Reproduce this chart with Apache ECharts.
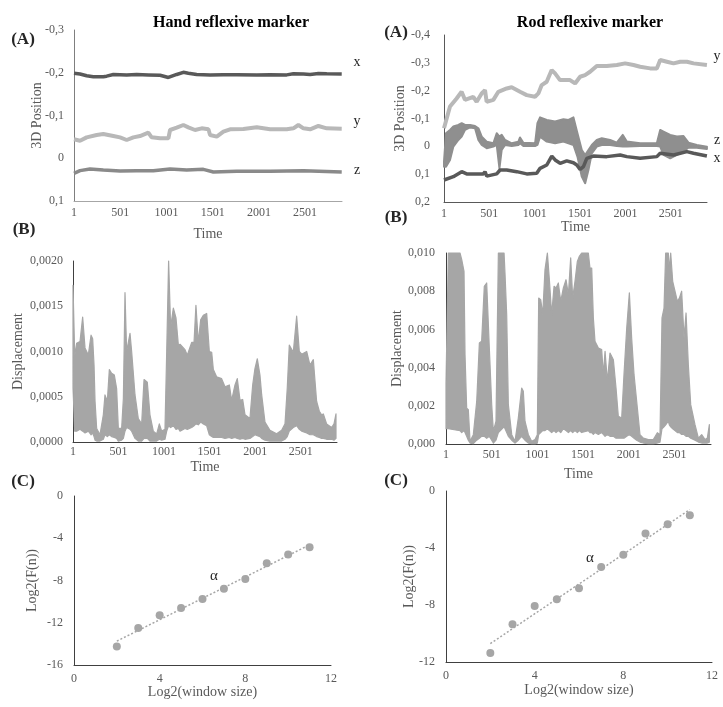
<!DOCTYPE html>
<html><head><meta charset="utf-8">
<script src="https://cdn.jsdelivr.net/npm/echarts@6/dist/echarts.min.js"></script>
<style>html,body{margin:0;padding:0;background:#fff}#c{width:723px;height:707px}</style>
</head><body><div id="c"></div>
<script>
// ---------- tick labels ----------
const timeTicks = [1, 501, 1001, 1501, 2001, 2501];
const handPosTicks = [-0.3, -0.2, -0.1, 0, 0.1];
const handPosLabels = ['-0,3', '-0,2', '-0,1', '0', '0,1'];
const rodPosTicks = [-0.4, -0.3, -0.2, -0.1, 0, 0.1, 0.2];
const rodPosLabels = ['-0,4', '-0,3', '-0,2', '-0,1', '0', '0,1', '0,2'];
const handDispTicks = [0, 0.0005, 0.001, 0.0015, 0.002];
const handDispLabels = ['0,0000', '0,0005', '0,0010', '0,0015', '0,0020'];
const rodDispTicks = [0, 0.002, 0.004, 0.006, 0.008, 0.01];
const rodDispLabels = ['0,000', '0,002', '0,004', '0,006', '0,008', '0,010'];

// ---------- (A) Hand 3D position ----------
const handXTime = [1, 66, 138, 210, 318, 354, 427, 571, 679, 805, 932, 1022, 1040, 1112, 1184, 1202, 1238, 1328, 1473, 1617, 1761, 1978, 2122, 2302, 2374, 2483, 2555, 2645, 2735, 2897];
const handXValue = [-0.1987, -0.197, -0.193, -0.1908, -0.1908, -0.192, -0.196, -0.195, -0.196, -0.195, -0.194, -0.189, -0.1877, -0.196, -0.201, -0.2025, -0.199, -0.196, -0.195, -0.1955, -0.1955, -0.195, -0.1955, -0.195, -0.1975, -0.197, -0.196, -0.198, -0.1975, -0.197];
const handYTime = [1, 66, 138, 246, 318, 427, 499, 571, 643, 715, 805, 841, 932, 1022, 1040, 1112, 1184, 1238, 1310, 1382, 1455, 1473, 1545, 1617, 1689, 1833, 1978, 2122, 2302, 2374, 2428, 2483, 2555, 2645, 2735, 2897];
const handYValue = [-0.0443, -0.0411, -0.0489, -0.0544, -0.0567, -0.052, -0.0489, -0.0427, -0.0489, -0.052, -0.0598, -0.0489, -0.0466, -0.0466, -0.0661, -0.0715, -0.0778, -0.0723, -0.0661, -0.07, -0.0677, -0.0544, -0.0505, -0.0622, -0.0677, -0.0684, -0.0723, -0.0677, -0.0677, -0.07, -0.0778, -0.07, -0.0677, -0.0755, -0.07, -0.0692];
const handZTime = [1, 66, 174, 318, 499, 679, 859, 1040, 1220, 1400, 1509, 1761, 2122, 2483, 2897];
const handZValue = [0.0353, 0.029, 0.0251, 0.0275, 0.0298, 0.029, 0.029, 0.0251, 0.0275, 0.026, 0.0321, 0.0306, 0.0306, 0.029, 0.0321];

// ---------- (A) Rod 3D position ----------
const rodYTime = [1, 67, 140, 195, 232, 324, 361, 416, 453, 471, 545, 600, 692, 747, 839, 913, 1004, 1041, 1078, 1133, 1188, 1225, 1280, 1390, 1446, 1501, 1556, 1611, 1685, 1795, 1906, 1998, 2090, 2163, 2274, 2347, 2384, 2458, 2531, 2605, 2679, 2752, 2899];
const rodYValue = [-0.065, -0.143, -0.172, -0.196, -0.167, -0.178, -0.16, -0.19, -0.202, -0.16, -0.167, -0.196, -0.208, -0.212, -0.196, -0.184, -0.178, -0.19, -0.22, -0.232, -0.274, -0.262, -0.238, -0.238, -0.226, -0.25, -0.256, -0.268, -0.289, -0.289, -0.292, -0.298, -0.292, -0.286, -0.28, -0.28, -0.31, -0.304, -0.298, -0.304, -0.304, -0.298, -0.292];
const rodXTime = [1, 104, 196, 251, 435, 453, 472, 582, 619, 692, 803, 913, 1023, 1060, 1134, 1189, 1226, 1281, 1354, 1428, 1465, 1501, 1538, 1575, 1648, 1795, 1943, 2016, 2163, 2347, 2384, 2531, 2678, 2751, 2899];
const rodXValue = [0.121, 0.109, 0.091, 0.099, 0.099, 0.091, 0.107, 0.099, 0.085, 0.085, 0.091, 0.099, 0.097, 0.079, 0.067, 0.035, 0.049, 0.061, 0.052, 0.059, 0.067, 0.083, 0.073, 0.043, 0.035, 0.037, 0.031, 0.037, 0.043, 0.037, 0.025, 0.031, 0.019, 0.025, 0.035];
// z is a noisy trace: read as its upper (more negative) and lower edges
const rodZTime = [1, 23, 67, 104, 159, 196, 233, 288, 343, 380,
  417, 472, 545, 582, 612, 637, 674, 748, 821, 839,
  876, 1005, 1031, 1060, 1134, 1226, 1317, 1373, 1428, 1472,
  1520, 1557, 1593, 1630, 1685, 1740, 1832, 1906, 1972, 2016,
  2163, 2347, 2384, 2421, 2494, 2568, 2641, 2696, 2788, 2899];
const rodZTop = [0.055, -0.047, -0.059, -0.071, -0.077, -0.083, -0.077, -0.077, -0.073, -0.065,
  -0.035, -0.017, -0.011, -0.047, -0.035, -0.041, -0.023, -0.011, -0.017, -0.032,
  -0.013, -0.011, -0.083, -0.104, -0.095, -0.089, -0.097, -0.095, -0.104, -0.047,
  0.013, 0.031, 0.013, -0.005, -0.023, -0.029, -0.023, -0.013, -0.041, -0.017,
  -0.011, -0.011, -0.059, -0.053, -0.041, -0.035, -0.037, -0.013, -0.005, 0.001];
const rodZBottom = [0.073, 0.073, 0.049, 0.001, -0.023, -0.035, -0.059, -0.068, -0.065, -0.023,
  -0.005, 0.007, 0.001, -0.005, 0.079, 0.013, -0.005, -0.001, -0.005, -0.011,
  -0.001, -0.001, -0.005, -0.035, -0.017, -0.011, -0.017, -0.011, -0.005, 0.037,
  0.109, 0.133, 0.085, 0.025, 0.001, -0.005, -0.005, -0.001, 0.001, 0.001,
  -0.001, -0.001, 0.001, 0.031, 0.043, 0.031, 0.019, 0.004, 0.005, 0.010];

// ---------- (B) Hand displacement (upper / lower envelope) ----------
const handDispTime = [1, 20, 41, 78, 107, 133, 169, 199, 217, 232,
  243, 261, 297, 334, 352, 378, 400, 425, 455, 480,
  499, 535, 554, 572, 590, 627, 645, 682, 718, 755,
  781, 817, 846, 883, 920, 949, 975, 1011, 1030, 1051,
  1073, 1103, 1132, 1158, 1176, 1231, 1256, 1304, 1330, 1351,
  1377, 1403, 1432, 1469, 1498, 1524, 1542, 1578, 1633, 1670,
  1718, 1743, 1780, 1805, 1835, 1864, 1890, 1944, 1974, 1999,
  2025, 2054, 2073, 2109, 2164, 2237, 2292, 2329, 2354, 2376,
  2420, 2457, 2486, 2512, 2567, 2603, 2640, 2676, 2706, 2731,
  2750, 2786, 2841, 2867, 2889];
const handDispHigh = [0.00173, 0.00095, 0.00109, 0.00111, 0.00138, 0.00104, 0.00096, 0.00118, 0.00114, 0.00085,
  0.00045, 0.00015, 0.00008, 0.0003, 0.00052, 0.00045, 0.0008, 0.00076, 0.00074, 0.00059,
  0.00015, 0.00015, 0.00048, 0.00165, 0.001, 0.0012, 0.001, 0.00052, 0.00026, 0.0002,
  0.00069, 0.00066, 0.0003, 0.00012, 0.00009, 0.0002, 0.00012, 0.00014, 0.001, 0.002,
  0.00127, 0.00148, 0.00137, 0.00107, 0.00108, 0.00102, 0.00096, 0.0011, 0.0011, 0.00151,
  0.0011, 0.00135, 0.0014, 0.00142, 0.001, 0.00099, 0.0008, 0.00072, 0.0007, 0.00061,
  0.00063, 0.00046, 0.00063, 0.0007, 0.00046, 0.00047, 0.0003, 0.00026, 0.00063, 0.00081,
  0.00092, 0.00074, 0.00052, 0.00022, 0.00013, 0.00009, 0.00013, 0.0002, 0.0006, 0.00107,
  0.00099, 0.00139, 0.001, 0.00097, 0.001, 0.00085, 0.00091, 0.00045, 0.00034, 0.0003,
  0.00031, 0.0002, 0.00016, 0.0002, 0.00031];
const handDispLow = [0.0006, 0.00012, 0.00012, 0.00014, 0.00012, 0.0001, 0.00012, 0.00008, 0.0001, 0.00006,
  0.00002, 0.00001, 0.00001, 0.00003, 0.00008, 0.00006, 0.00008, 0.00006, 0.00005, 0.00004,
  0.00001, 0.00002, 0.00004, 0.00012, 0.00016, 0.00014, 0.00012, 0.00004, 0.00001, 0.00001,
  0.00004, 0.00004, 0.00001, 0.00001, 0.00001, 0.00003, 0.00002, 0.00003, 0.00012, 0.00018,
  0.00016, 0.00018, 0.00014, 0.00015, 0.00012, 0.00015, 0.00014, 0.00016, 0.00018, 0.0002,
  0.00019, 0.00022, 0.0002, 0.00018, 0.00008, 0.00006, 0.00005, 0.00005, 0.00005, 0.00004,
  0.00005, 0.00004, 0.00005, 0.00004, 0.00003, 0.00004, 0.00003, 0.00004, 0.00006, 0.00008,
  0.00007, 0.00006, 0.00004, 0.00002, 0.00001, 0.00001, 0.00001, 0.00003, 0.00006, 0.00012,
  0.00016, 0.00018, 0.00014, 0.00012, 0.0001, 0.00008, 0.00008, 0.00006, 0.00005, 0.00004,
  0.00004, 0.00003, 0.00003, 0.00002, 0.00004];

// ---------- (B) Rod displacement (upper / lower envelope) ----------
const rodDispTime = [1, 27, 154, 173, 198, 209, 227, 245, 264, 300,
  337, 366, 391, 420, 446, 475, 501, 519, 548, 574,
  636, 647, 665, 683, 720, 756, 792, 829, 847, 865,
  902, 938, 975, 1000, 1015, 1037, 1059, 1084, 1110, 1132,
  1157, 1183, 1205, 1230, 1256, 1285, 1314, 1340, 1365, 1387,
  1412, 1438, 1460, 1485, 1558, 1576, 1595, 1613, 1631, 1668,
  1704, 1722, 1741, 1766, 1795, 1832, 1861, 1886, 1923, 1948,
  1978, 2007, 2032, 2058, 2087, 2123, 2160, 2215, 2269, 2313,
  2342, 2364, 2386, 2404, 2433, 2444, 2459, 2481, 2506, 2532,
  2554, 2579, 2605, 2627, 2652, 2678, 2725, 2762, 2798, 2835,
  2860, 2882];
const rodDispHigh = [0.0032, 0.012, 0.012, 0.00965, 0.00904, 0.00468, 0.00188, 0.0018, 0.00014, 0.00049,
  0.00223, 0.00529, 0.00538, 0.00826, 0.00843, 0.00503, 0.00206, 0.00066, 0.00119, 0.012,
  0.012, 0.00887, 0.00677, 0.00206, 0.00049, 0.00014, 0.00136, 0.00293, 0.00276, 0.00119,
  0.00049, 0.00014, 0.00023, 0.00049, 0.00764, 0.00756, 0.00677, 0.00913, 0.012, 0.0086,
  0.00677, 0.00826, 0.00817, 0.00843, 0.00747, 0.00817, 0.0086, 0.00782, 0.00974, 0.00764,
  0.00852, 0.00956, 0.00983, 0.012, 0.012, 0.00921, 0.00921, 0.0066, 0.00538, 0.00503,
  0.00494, 0.00363, 0.00485, 0.00328, 0.00476, 0.00441, 0.00293, 0.00145, 0.00136, 0.00363,
  0.00607, 0.00791, 0.00555, 0.00363, 0.00223, 0.00049, 0.00031, 0.00023, 0.00023, 0.00059,
  0.00049, 0.0066, 0.00712, 0.012, 0.012, 0.00904, 0.012, 0.00852, 0.008, 0.00747,
  0.00764, 0.008, 0.00555, 0.00686, 0.00415, 0.00206, 0.00101, 0.00031, 0.00049, 0.00023,
  0.00031, 0.00101];
const rodDispLow = [0.0008, 0.0008, 0.0007, 0.0006, 0.0007, 0.0006, 0.0004, 0.0002, 0.00005, 0.00002,
  0.0002, 0.0003, 0.0004, 0.0004, 0.0003, 0.0004, 0.0002, 0.00005, 0.0002, 0.0006,
  0.0009, 0.0008, 0.0006, 0.0004, 0.0002, 0.00005, 0.0002, 0.0004, 0.0003, 0.0002,
  0.00005, 0.00002, 0.00002, 0.00005, 0.0005, 0.0006, 0.0007, 0.0007, 0.0008, 0.0007,
  0.0006, 0.0007, 0.0006, 0.0007, 0.0006, 0.0008, 0.0007, 0.0006, 0.0007, 0.0006,
  0.0007, 0.0006, 0.0007, 0.0006, 0.0007, 0.0006, 0.0006, 0.0005, 0.0006, 0.0005,
  0.0006, 0.0005, 0.0004, 0.0005, 0.0004, 0.0004, 0.0003, 0.0003, 0.0003, 0.0003,
  0.0004, 0.0005, 0.0004, 0.0003, 0.0002, 0.0001, 0.00005, 0.00002, 0.00002, 0.00005,
  0.0001, 0.0008, 0.0009, 0.001, 0.0012, 0.001, 0.0009, 0.0008, 0.0007, 0.0006,
  0.0006, 0.0005, 0.0005, 0.0004, 0.0004, 0.0003, 0.0002, 0.0001, 0.00005, 0.00005,
  0.00005, 0.0001];

// ---------- (C) DFA ----------
const windowLog2 = [2, 3, 4, 5, 6, 7, 8, 9, 10, 11];
const handLogF = [-14.26, -12.5, -11.3, -10.6, -9.75, -8.77, -7.85, -6.37, -5.55, -4.86];
const rodLogF = [-11.37, -9.35, -8.07, -7.6, -6.83, -5.34, -4.48, -2.98, -2.33, -1.70];

// ---------- helpers ----------
const FONT = 'Liberation Serif';
const LABEL = '#595959';
const zip = (t, v) => t.map((x, i) => [x, v[i]]);
const lookup = (ticks, labels) => v => {
  for (let i = 0; i < ticks.length; i++) if (Math.abs(ticks[i] - v) < 1e-9) return labels[i];
  return '';
};
function fit(xs, ys) {
  const n = xs.length;
  const mx = xs.reduce((a, b) => a + b, 0) / n, my = ys.reduce((a, b) => a + b, 0) / n;
  let sxy = 0, sxx = 0;
  for (let i = 0; i < n; i++) { sxy += (xs[i] - mx) * (ys[i] - my); sxx += (xs[i] - mx) ** 2; }
  const b = sxy / sxx, a = my - b * mx;
  return [[xs[0], a + b * xs[0]], [xs[n - 1], a + b * xs[n - 1]]];
}
function timeAxis(g, gap, margin, lineColor) {
  return {
    type: 'value', gridIndex: g, min: 1, max: 2900,
    name: 'Time', nameLocation: 'middle', nameGap: gap, nameMoveOverlap: false,
    nameTextStyle: { fontFamily: FONT, fontSize: 14, color: LABEL },
    axisLine: { onZero: false, lineStyle: { color: lineColor, width: 1 } },
    axisTick: { show: false }, splitLine: { show: false },
    axisLabel: { customValues: timeTicks, formatter: v => String(v), margin: margin,
      fontFamily: FONT, fontSize: 12, color: LABEL }
  };
}
function valAxis(g, o) {
  return Object.assign({
    type: 'value', gridIndex: g, nameLocation: 'middle', nameMoveOverlap: false,
    nameTextStyle: { fontFamily: FONT, fontSize: 14, color: LABEL },
    axisLine: { show: true, onZero: false, lineStyle: { color: '#7f7f7f', width: 1 } },
    axisTick: { show: false }, splitLine: { show: false }
  }, o);
}
function yLab(ticks, labels, margin) {
  return { customValues: ticks, formatter: lookup(ticks, labels), margin: margin,
    fontFamily: FONT, fontSize: 12, color: LABEL };
}
function line(g, data, color, width) {
  return { type: 'line', xAxisIndex: g, yAxisIndex: g, data: data, showSymbol: false,
    lineStyle: { color: color, width: width }, itemStyle: { color: color }, silent: true };
}
// filled band between two read envelopes, drawn through the axes' coordinate mapping
function band(g, t, edgeA, edgeB, color, w) {
  return {
    type: 'custom', xAxisIndex: g, yAxisIndex: g, data: zip(t, edgeA), silent: true,
    renderItem: function (params, api) {
      if (params.dataIndex !== 0) return null;
      const cs = params.coordSys;
      const cy = y => Math.max(cs.y, Math.min(cs.y + cs.height, y));
      const pts = [];
      for (let i = 0; i < t.length; i++) { const p = api.coord([t[i], edgeA[i]]); pts.push([p[0], cy(p[1])]); }
      for (let i = t.length - 1; i >= 0; i--) { const p = api.coord([t[i], edgeB[i]]); pts.push([p[0], cy(p[1])]); }
      return { type: 'polygon', shape: { points: pts },
        style: { fill: color, stroke: color, lineWidth: w, lineJoin: 'round' } };
    }
  };
}
function txt(s, x, y, size, bold, color) {
  return { type: 'text', x: x, y: y, silent: true,
    style: { text: s, fontFamily: FONT, fontSize: size, fontWeight: bold ? 'bold' : 'normal',
      fill: color, textAlign: 'center', textVerticalAlign: 'middle' } };
}

const chart = echarts.init(document.getElementById('c'));
chart.setOption({
  animation: false,
  backgroundColor: '#ffffff',
  grid: [
    { left: 74, top: 30, width: 268, height: 171, outerBoundsMode: 'none' },
    { left: 444, top: 35, width: 263, height: 167, outerBoundsMode: 'none' },
    { left: 73, top: 261, width: 264, height: 181, outerBoundsMode: 'none' },
    { left: 446, top: 253, width: 265, height: 191, outerBoundsMode: 'none' },
    { left: 74, top: 496, width: 257, height: 169, outerBoundsMode: 'none' },
    { left: 446, top: 491, width: 266, height: 171, outerBoundsMode: 'none' }
  ],
  xAxis: [
    timeAxis(0, 26, 6, '#a6a6a6'),
    timeAxis(1, 18, 6, '#595959'),
    timeAxis(2, 18, 4, '#404040'),
    timeAxis(3, 23, 5, '#404040'),
    valAxis(4, { min: 0, max: 12, interval: 4, name: 'Log2(window size)', nameGap: 20,
      axisLine: { onZero: false, lineStyle: { color: '#404040' } },
      axisLabel: { margin: 8, fontFamily: FONT, fontSize: 12, color: LABEL } }),
    valAxis(5, { min: 0, max: 12, interval: 4, name: 'Log2(window size)', nameGap: 21,
      axisLine: { onZero: false, lineStyle: { color: '#404040' } },
      axisLabel: { margin: 8, fontFamily: FONT, fontSize: 12, color: LABEL } })
  ],
  yAxis: [
    valAxis(0, { min: -0.3, max: 0.1, inverse: true, name: '3D Position', nameGap: 30,
      axisLabel: yLab(handPosTicks, handPosLabels, 10) }),
    valAxis(1, { min: -0.4, max: 0.2, inverse: true, name: '3D Position', nameGap: 37,
      axisLine: { onZero: false, lineStyle: { color: '#595959' } },
      axisLabel: yLab(rodPosTicks, rodPosLabels, 14) }),
    valAxis(2, { min: 0, max: 0.002, name: 'Displacement', nameGap: 48,
      axisLine: { onZero: false, lineStyle: { color: '#404040' } },
      axisLabel: yLab(handDispTicks, handDispLabels, 10) }),
    valAxis(3, { min: 0, max: 0.01, name: 'Displacement', nameGap: 42,
      axisLine: { onZero: false, lineStyle: { color: '#404040' } },
      axisLabel: yLab(rodDispTicks, rodDispLabels, 11) }),
    valAxis(4, { min: -16, max: 0, interval: 4, name: 'Log2(F(n))', nameGap: 35,
      axisLine: { onZero: false, lineStyle: { color: '#404040' } },
      axisLabel: { margin: 11, fontFamily: FONT, fontSize: 12, color: LABEL } }),
    valAxis(5, { min: -12, max: 0, interval: 4, name: 'Log2(F(n))', nameGap: 30,
      axisLine: { onZero: false, lineStyle: { color: '#404040' } },
      axisLabel: { margin: 11, fontFamily: FONT, fontSize: 12, color: LABEL } })
  ],
  series: [
    line(0, zip(handXTime, handXValue), '#595959', 3.5),
    line(0, zip(handYTime, handYValue), '#b8b8b8', 4),
    line(0, zip(handZTime, handZValue), '#8a8a8a', 3.5),
    line(1, zip(rodYTime, rodYValue), '#b8b8b8', 4),
    band(1, rodZTime, rodZTop, rodZBottom, '#8f8f8f', 2),
    line(1, zip(rodXTime, rodXValue), '#595959', 3.5),
    band(2, handDispTime, handDispHigh, handDispLow, '#a6a6a6', 1.2),
    band(3, rodDispTime, rodDispHigh, rodDispLow, '#a6a6a6', 1.2),
    { type: 'line', xAxisIndex: 4, yAxisIndex: 4, data: fit(windowLog2, handLogF), showSymbol: false,
      lineStyle: { color: '#a6a6a6', width: 1.5, type: [2, 2] }, silent: true },
    { type: 'scatter', xAxisIndex: 4, yAxisIndex: 4, data: zip(windowLog2, handLogF), symbolSize: 8,
      itemStyle: { color: '#a6a6a6', opacity: 1 }, silent: true },
    { type: 'line', xAxisIndex: 5, yAxisIndex: 5, data: fit(windowLog2, rodLogF), showSymbol: false,
      lineStyle: { color: '#a6a6a6', width: 1.5, type: [2, 2] }, silent: true },
    { type: 'scatter', xAxisIndex: 5, yAxisIndex: 5, data: zip(windowLog2, rodLogF), symbolSize: 8,
      itemStyle: { color: '#a6a6a6', opacity: 1 }, silent: true }
  ],
  graphic: [
    txt('Hand reflexive marker', 231, 23, 16, true, '#000'),
    txt('Rod reflexive marker', 590, 23, 16, true, '#000'),
    txt('(A)', 23, 40, 17, true, '#262626'),
    txt('(A)', 396, 33, 17, true, '#262626'),
    txt('(B)', 24, 230, 17, true, '#262626'),
    txt('(B)', 396, 218, 17, true, '#262626'),
    txt('(C)', 23, 482, 17, true, '#262626'),
    txt('(C)', 396, 481, 17, true, '#262626'),
    txt('x', 357, 62, 14, false, '#262626'),
    txt('y', 357, 121, 14, false, '#262626'),
    txt('z', 357, 170, 14, false, '#262626'),
    txt('y', 717, 56, 14, false, '#262626'),
    txt('z', 717, 140, 14, false, '#262626'),
    txt('x', 717, 158, 14, false, '#262626'),
    txt('α', 214, 576, 15, false, '#262626'),
    txt('α', 590, 558, 15, false, '#262626')
  ]
});
</script>
</body></html>
